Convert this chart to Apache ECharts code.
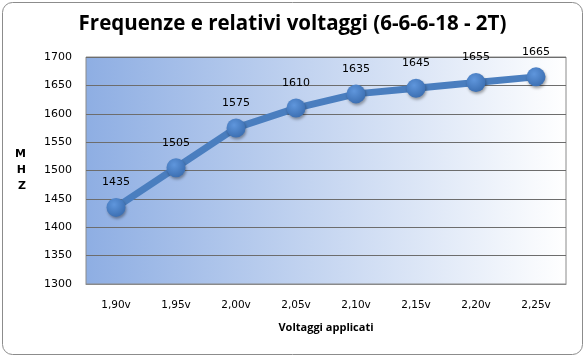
<!DOCTYPE html>
<html><head><meta charset="utf-8">
<script src="https://cdn.jsdelivr.net/npm/echarts@6/dist/echarts.min.js"></script>
<style>html,body{margin:0;padding:0;background:#fff}#c{width:585px;height:358px}</style>
</head><body><div id="c"></div>
<script>
const categories = ['1,90v','1,95v','2,00v','2,05v','2,10v','2,15v','2,20v','2,25v'];
const mhzValues = [1435, 1505, 1575, 1610, 1635, 1645, 1655, 1665];
const yMin = 1300, yMax = 1700, yStep = 50;
const titleText = 'Frequenze e relativi voltaggi (6-6-6-18 - 2T)';
const xName = 'Voltaggi applicati';
const yName = 'M\nH\nZ';

const chart = echarts.init(document.getElementById('c'));
chart.setOption({
  animation: false,
  graphic: [{
    type: 'rect', left: 2, top: 2,
    shape: { width: 580, height: 352, r: 10 },
    style: { fill: '#fff', stroke: '#8c8c8c', lineWidth: 1 }, z: -10
  }],
  title: {
    text: titleText, left: 'center', top: 9,
    textStyle: { fontFamily: 'Open Sans', fontSize: 20.5, fontWeight: 'bold', color: '#000' }
  },
  grid: { left: 86, right: 19, top: 57, bottom: 74, show: true,
    backgroundColor: new echarts.graphic.LinearGradient(0, 0, 1, 0, [
      { offset: 0, color: '#8eaee3' }, { offset: 1, color: '#ffffff' }
    ]), borderColor: '#8a8a8a', borderWidth: 1 },
  xAxis: {
    type: 'category', data: categories, boundaryGap: true,
    name: xName, nameLocation: 'middle', nameGap: 38,
    nameTextStyle: { fontFamily: 'Open Sans', fontSize: 11, fontWeight: 'bold', color: '#000' },
    axisLine: { show: true, lineStyle: { color: '#8a8a8a' } },
    axisTick: { show: false },
    axisLabel: { fontFamily: 'DejaVu Sans', fontSize: 10.5, color: '#000', margin: 16 }
  },
  yAxis: {
    type: 'value', min: yMin, max: yMax, interval: yStep,
    name: yName, nameLocation: 'middle', nameRotate: 0, nameGap: 60,
    nameTextStyle: { fontFamily: 'DejaVu Sans', fontSize: 11, fontWeight: 'bold', color: '#000', lineHeight: 16 },
    axisLine: { show: false }, axisTick: { show: false },
    axisLabel: { fontFamily: 'DejaVu Sans', fontSize: 11, color: '#000', margin: 14, formatter: v => String(v) },
    splitLine: { lineStyle: { color: '#6d6d6d', width: 1 } }
  },
  series: [{
    type: 'line', data: mhzValues,
    symbol: 'circle', symbolSize: 19,
    lineStyle: { color: '#4a7ebf', width: 7 },
    itemStyle: {
      color: new echarts.graphic.RadialGradient(0.4, 0.35, 0.7, [
        { offset: 0, color: '#5f96dc' }, { offset: 1, color: '#3a6db0' }
      ]),
      shadowColor: 'rgba(0,0,0,0.35)', shadowBlur: 3, shadowOffsetX: 1, shadowOffsetY: 2
    },
    label: { show: true, position: 'top', distance: 10,
      fontFamily: 'DejaVu Sans', fontSize: 11, color: '#000' }
  }]
});
</script></body></html>
